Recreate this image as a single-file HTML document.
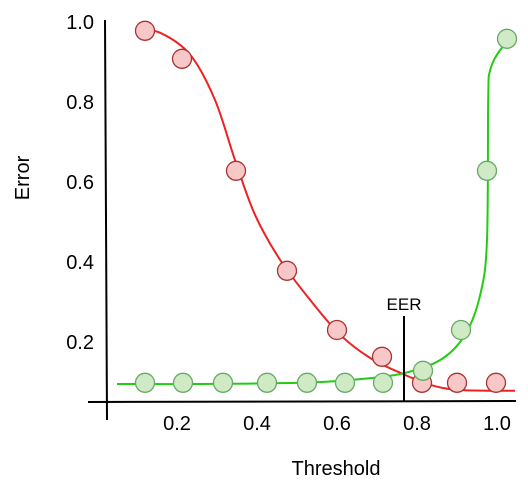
<!DOCTYPE html>
<html><head><meta charset="utf-8"><style>
html,body{margin:0;padding:0;background:#fff;}
svg{display:block;font-family:"Liberation Sans",sans-serif;}
</style></head><body>
<svg id="chart" width="528" height="488" viewBox="0 0 528 488" xmlns="http://www.w3.org/2000/svg">
<g id="axes">
<line x1="105" y1="20" x2="107" y2="420" stroke="#000" stroke-width="2"/>
<line x1="88" y1="402" x2="516" y2="401" stroke="#000" stroke-width="2"/>
</g>
<text x="0" y="0" transform="translate(29,178) rotate(-90)" text-anchor="middle" font-size="20">Error</text>
<text x="336" y="475" text-anchor="middle" font-size="20">Threshold</text>
<g id="ticks"></g>
<g id="curves"></g>
<g id="points"></g>
<line id="eerline" stroke="#000" stroke-width="2"/>
<text id="eerlabel" text-anchor="middle" font-size="17">EER</text>
</svg>
<script>
const xTicks=[0.2,0.4,0.6,0.8,1.0];
const xTickLabels=["0.2","0.4","0.6","0.8","1.0"];
const yTicks=[0.2,0.4,0.6,0.8,1.0];
const yTickLabels=["0.2","0.4","0.6","0.8","1.0"];
const frrX=[0.12,0.2125,0.3475,0.475,0.6,0.7125,0.8125,0.9,0.9975];
const frrY=[0.978,0.908,0.628,0.378,0.23,0.163,0.098,0.098,0.098];
const farX=[0.12,0.215,0.315,0.425,0.525,0.62,0.715,0.815,0.91,0.975,1.025];
const farY=[0.098,0.098,0.098,0.098,0.098,0.098,0.098,0.128,0.23,0.628,0.958];
const frrCurveX=[0.1,0.158,0.233,0.295,0.345,0.395,0.458,0.533,0.608,0.683,0.758,0.833,0.908,1.045];
const frrCurveY=[0.98,0.973,0.918,0.805,0.655,0.518,0.405,0.305,0.218,0.16,0.123,0.093,0.08,0.078];
const farCurveX=[0.05,0.258,0.508,0.633,0.758,0.858,0.92,0.958,0.975,0.978,0.983,1.008,1.045];
const farCurveY=[0.095,0.095,0.098,0.105,0.12,0.155,0.218,0.318,0.455,0.805,0.88,0.93,0.968];
const eerX=0.7675;
const eerTop=0.265;
const xs=v=>97+v*400;
const ys=v=>422-v*400;
const NS="http://www.w3.org/2000/svg";
function mk(t,a,p){const e=document.createElementNS(NS,t);for(const k in a)e.setAttribute(k,a[k]);p.appendChild(e);return e;}
const tg=document.getElementById('ticks');
xTicks.forEach((v,i)=>{const t=mk('text',{x:xs(v),y:430,'text-anchor':'middle','font-size':20},tg);


t.textContent=xTickLabels[i];});
yTicks.forEach((v,i)=>{const t=mk('text',{x:94,y:ys(v)+7,'text-anchor':'end','font-size':20},tg);


t.textContent=yTickLabels[i];});
function spline(X,Y){const p=X.map((x,i)=>[xs(x),ys(Y[i])]);let d=`M${p[0][0]},${p[0][1]}`;
for(let i=0;i<p.length-1;i++){const p0=p[i-1]||p[i],p1=p[i],p2=p[i+1],p3=p[i+2]||p2;
d+=` C${p1[0]+(p2[0]-p0[0])/6},${p1[1]+(p2[1]-p0[1])/6} ${p2[0]-(p3[0]-p1[0])/6},${p2[1]-(p3[1]-p1[1])/6} ${p2[0]},${p2[1]}`;}return d;}
const cg=document.getElementById('curves');
const rc=mk('path',{d:spline(frrCurveX,frrCurveY),fill:'none',stroke:'#ee2222','stroke-width':2},cg);


const gc=mk('path',{d:spline(farCurveX,farCurveY),fill:'none',stroke:'#22cc11','stroke-width':2},cg);


const pg=document.getElementById('points');
frrX.forEach((x,i)=>{const c=mk('circle',{cx:xs(x),cy:ys(frrY[i]),r:9.5,fill:'#f8c8c8',stroke:'#a33','stroke-width':1.3},pg);

});
farX.forEach((x,i)=>{const c=mk('circle',{cx:xs(x),cy:ys(farY[i]),r:9.5,fill:'#cfeac4',stroke:'#6a6','stroke-width':1.3},pg);

});
const el=document.getElementById('eerline');
el.setAttribute('x1',xs(eerX));el.setAttribute('x2',xs(eerX));el.setAttribute('y1',ys(eerTop));el.setAttribute('y2',402);
const lb=document.getElementById('eerlabel');
lb.setAttribute('x',xs(eerX));lb.setAttribute('y',ys(eerTop)-6);
</script>
</body></html>
